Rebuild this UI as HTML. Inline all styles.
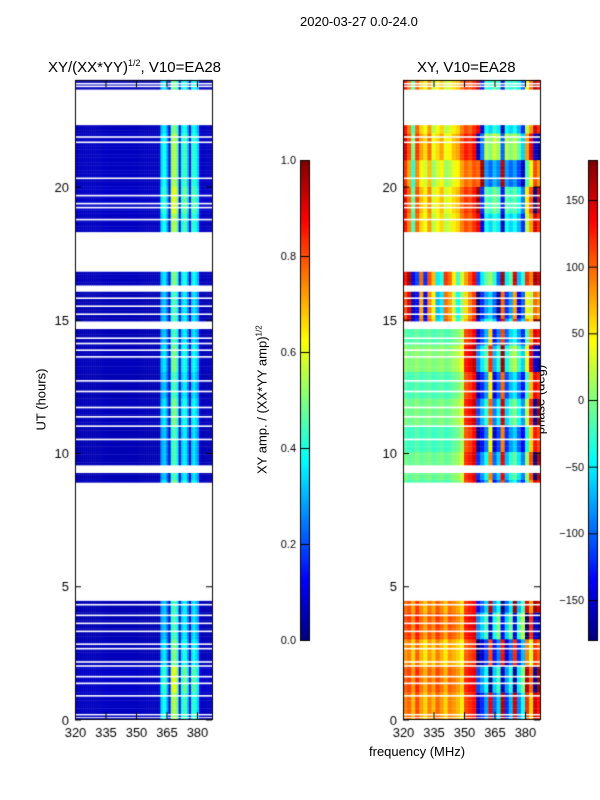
<!DOCTYPE html>
<html><head><meta charset="utf-8"><style>
body{margin:0;background:#fff;width:600px;height:800px;overflow:hidden;position:relative;font-family:"Liberation Sans","DejaVu Sans",sans-serif;color:#000}
.t{position:absolute;white-space:nowrap;font-size:13px}
canvas{position:absolute}
</style></head><body>
<div class="t" style="left:300px;top:14px">2020-03-27 0.0-24.0</div>
<div class="t" style="left:48px;top:58px;font-size:15px">XY/(XX*YY)<sup style="font-size:9px">1/2</sup>, V10=EA28</div>
<div class="t" style="left:417px;top:59px;font-size:15px">XY, V10=EA28</div>
<div class="t" style="left:369px;top:744px">frequency (MHz)</div>
<div class="t" style="left:4px;top:392px;transform:rotate(-90deg);transform-origin:center;width:74px;text-align:center">UT (hours)</div>
<div class="t" style="left:172px;top:392px;width:180px;text-align:center;transform:rotate(-90deg)">XY amp. / (XX*YY amp)<sup style="font-size:8px">1/2</sup></div>
<div class="t" style="left:495px;top:392px;width:90px;text-align:center;transform:rotate(-90deg)">phase (deg)</div>
<canvas id="c" width="600" height="800" style="left:0;top:0"></canvas>
<script>
const ampProfile=[0.06,0.06,0.06,0.06,0.06,0.06,0.06,0.06,0.06,0.06,0.06,0.06,0.06,0.06,0.06,0.07,0.06,0.06,0.06,0.06,0.06,0.06,0.06,0.06,0.06,0.06,0.06,0.06,0.06,0.06,0.06,0.06,0.06,0.06,0.06,0.06,0.06,0.06,0.06,0.06,0.06,0.06,
0.3,0.35,0.35,0.25,0.08,0.45,0.5,0.5,0.4,0.08,0.35,0.4,0.4,0.3,0.08,0.35,0.4,0.35,0.3,0.08,0.06,0.06,0.06,0.06,0.06,0.06];
const hourAmp=[1.1,1.2,1.0,0.9,0.9,1,1,1,1,0.9,0.9,1.0,0.9,1.0,0.9,0.9,1.0,1,1.1,1.2,1.1,1.1,1.0,1.0];
const phaseA=[90,100,70,110,80,60,90,70,100,80,60,90,80,70,50,110,120,130,-150,-120,-80,140,-100,-60,160,-120,-70,150,-90,-40,120,60,150,130];
const phaseB=[-10,-20,-15,-10,-20,-15,-10,-20,-15,-10,-20,-15,-5,0,20,110,120,140,-150,-110,-70,60,-130,-90,110,-100,-60,-40,-80,-120,-20,80,150,130];
const phaseC=[120,160,-150,-120,90,-130,100,60,-60,-40,110,90,40,-30,20,70,100,130,-140,-80,-40,-20,-60,-130,140,-80,-40,120,-100,-60,90,60,140,120];
const phaseD=[130,90,-20,100,60,40,80,20,40,60,20,30,50,60,90,110,100,120,140,-150,-40,-60,-30,-50,-160,-40,-60,-40,-70,-120,20,80,150,120];
const hourShift=[0,40,-30,60,20,0,0,0,0,30,-20,40,-10,60,0,-40,30,0,0,30,-40,60,0,20];
const validBlocks=[[0,0.05],[0.1,0.15],[0.22,4.45],[8.9,9.25],[9.55,14.65],[14.95,16.05],[16.3,16.8],[18.3,22.3],[23.65,24]];
const flagLines=[0.88,1.35,1.6,2.0,2.15,2.65,2.82,3.3,3.6,3.9,4.3,10.5,11.0,11.35,11.7,12.3,12.7,13.6,13.85,14.1,14.3,15.2,15.5,15.8,18.75,19.2,19.35,19.65,20.3,21.65,21.85,23.75,23.85];
const xTicks=[320,335,350,365,380], yTicks=[0,5,10,15,20];
const ampTicks=["0.0","0.2","0.4","0.6","0.8","1.0"], phTicks=[-150,-100,-50,0,50,100,150];

const ctx=document.getElementById('c').getContext('2d');
const Y0=719.5,PPH=26.65,F0=320,PPM=2.033;
const yS=h=>Y0-h*PPH;
function jet(v){v=Math.max(0,Math.min(1,v));
 const r=Math.min(1,Math.max(0,1.5-Math.abs(4*v-3))),g=Math.min(1,Math.max(0,1.5-Math.abs(4*v-2))),b=Math.min(1,Math.max(0,1.5-Math.abs(4*v-1)));
 return `rgb(${r*255|0},${g*255|0},${b*255|0})`;}
function panel(x0,fn,nch,chw){
 validBlocks.forEach(([a,b])=>{
  for(let h=a;h<b-1e-9;h+=0.1){const he=Math.min(b,h+0.1);
   for(let c=0;c<nch;c++){const f=F0+c*chw;let xe=F0+(c+1)*chw;
    ctx.fillStyle=fn(c,h);const xa=x0+(f-F0)*PPM,xb=Math.min(x0+137,x0+(xe-F0)*PPM);
    ctx.fillRect(xa,yS(he),xb-xa+0.5,yS(h)-yS(he)+0.3);}}
 });
 ctx.fillStyle='#fff';flagLines.forEach(h=>ctx.fillRect(x0,yS(h)-1,137,1.6));
 ctx.strokeStyle='#000';ctx.lineWidth=1;ctx.strokeRect(x0+0.5,80.5,137,639);
 ctx.fillStyle='#000';ctx.font='13px "Liberation Sans",sans-serif';
 xTicks.forEach(t=>{const x=x0+(t-F0)*PPM;ctx.fillRect(x,712,1,7);ctx.fillRect(x,81,1,6);ctx.textAlign='center';ctx.fillText(t,x+0.5,737);});
 yTicks.forEach(t=>{const y=yS(t);ctx.fillRect(x0,y,6,1);ctx.fillRect(x0+131,y,6,1);ctx.textAlign='right';ctx.fillText(t,x0-6,y+5);});
}
panel(75,(c,h)=>jet(ampProfile[c]*hourAmp[Math.floor(h)]),68,1);
panel(403,(c,h)=>{const blk=h<5?phaseA:h<14.6?phaseB:h<17?phaseC:phaseD;
 let p=blk[c]+hourShift[Math.floor(h)]*(c>17?1:0.3);p=((p+180)%360+360)%360-180;return jet((p+180)/360);},34,2);
function cbar(x,labels,vals,lo,hi){
 for(let y=0;y<480;y++){ctx.fillStyle=jet(1-y/480);ctx.fillRect(x,160+y,9,1);}
 ctx.strokeStyle='#000';ctx.strokeRect(x+0.5,160.5,9,480);
 ctx.fillStyle='#000';ctx.textAlign='right';ctx.font='11px "Liberation Sans",sans-serif';
 vals.forEach((v,i)=>{const y=640-(v-lo)/(hi-lo)*480;ctx.fillRect(x,y,9,1);ctx.fillText(labels[i],x-4,y+4);});
}
cbar(300,ampTicks,[0,0.2,0.4,0.6,0.8,1.0],0,1);
cbar(588,phTicks.map(v=>v<0?'\u2212'+(-v):String(v)),phTicks,-180,180);
</script>
</body></html>
